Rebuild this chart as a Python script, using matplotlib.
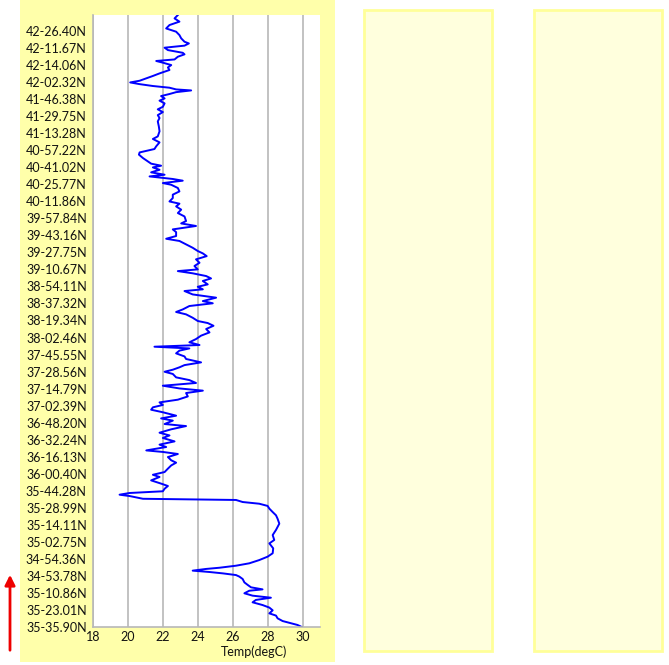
import matplotlib
matplotlib.use("Agg")
import matplotlib.pyplot as plt
from matplotlib.patches import Rectangle, FancyArrowPatch

plt.rcParams['font.family'] = ['Lato', 'DejaVu Sans']

# latitude labels along the track (bottom = start)
lat_labels = ['35-35.90N', '35-23.01N', '35-10.86N', '34-53.78N', '34-54.36N',
              '35-02.75N', '35-14.11N', '35-28.99N', '35-44.28N', '36-00.40N',
              '36-16.13N', '36-32.24N', '36-48.20N', '37-02.39N', '37-14.79N',
              '37-28.56N', '37-45.55N', '38-02.46N', '38-19.34N', '38-37.32N',
              '38-54.11N', '39-10.67N', '39-27.75N', '39-43.16N', '39-57.84N',
              '40-11.86N', '40-25.77N', '40-41.02N', '40-57.22N', '41-13.28N',
              '41-29.75N', '41-46.38N', '42-02.32N', '42-14.06N', '42-11.67N',
              '42-26.40N']

# position along the track (label units) and sea temperature
track_pos = [35.94, 35.74, 35.55, 35.35, 35.15, 34.96, 34.76, 34.57, 34.37, 34.27,
             34.14, 34.02, 33.88, 33.72, 33.63, 33.49, 33.33, 33.24, 33.14, 33.00,
             32.86, 32.71, 32.51, 32.36, 32.22, 32.08, 31.98, 31.88, 31.77, 31.67,
             31.57, 31.51, 31.41, 31.30, 31.18, 31.04, 30.91, 30.75, 30.55, 30.40,
             30.24, 30.06,
             29.89, 29.69, 29.40, 29.11, 28.81, 28.66, 28.46, 28.23, 28.07, 27.87,
             27.74, 27.54, 27.34, 27.21, 27.09, 26.99, 26.85, 26.70, 26.56, 26.46,
             26.31, 26.21, 26.07, 25.97, 25.78, 25.58, 25.39, 25.19, 24.99, 24.86,
             24.70, 24.51, 24.31, 24.11,
             23.84, 23.70, 23.55, 23.35, 23.19, 22.96, 22.80, 22.67, 22.47, 22.27,
             22.08, 21.94, 21.78, 21.59, 21.39, 21.20, 21.00, 20.90, 20.77, 20.61,
             20.47, 20.32, 20.12, 19.98, 19.83, 19.73, 19.53, 19.34, 19.14, 19.01,
             18.85, 18.65, 18.50, 18.36, 18.16, 17.97,
             17.85, 17.69, 17.50, 17.30, 17.11, 16.91, 16.72, 16.56, 16.46, 16.36,
             16.23, 16.07, 15.89, 15.74, 15.54, 15.38, 15.25, 15.11, 14.99, 14.86,
             14.66, 14.50, 14.33, 14.17, 14.01, 13.88, 13.74, 13.54, 13.35, 13.19,
             13.04, 12.90, 12.76, 12.61, 12.41, 12.25, 12.12, 11.92,
             11.80, 11.61, 11.41, 11.25, 11.10, 10.90, 10.71, 10.57, 10.37, 10.28,
             10.16, 9.98, 9.79, 9.65, 9.49, 9.30, 9.10, 8.94, 8.81, 8.61,
             8.42, 8.28, 8.12, 7.97, 7.87, 7.77, 7.69, 7.57, 7.53, 7.46,
             7.34, 7.24, 7.11, 6.95, 6.75, 6.56, 6.36, 6.07,
             5.70, 5.40, 5.11, 4.91, 4.62, 4.33, 4.13, 3.93, 3.74, 3.60,
             3.48, 3.41, 3.31, 3.23, 3.15, 3.05, 2.96, 2.82, 2.62, 2.47,
             2.33, 2.21, 2.13, 1.98, 1.84, 1.72, 1.59, 1.45, 1.29, 1.14,
             0.98, 0.80, 0.67, 0.51, 0.35, 0.22, 0.12, 0.00]
temp_c = [22.86, 22.67, 22.95, 22.38, 22.19, 22.76, 22.95, 23.05, 23.24, 23.49,
          23.24, 22.10, 22.29, 23.14, 23.24, 22.86, 22.67, 21.62, 22.00, 22.48,
          22.29, 22.38, 21.81, 21.43, 21.05, 20.67, 20.13, 20.67, 21.43, 22.38,
          22.76, 23.62, 22.76, 22.38, 21.90, 22.10, 21.81, 22.10, 22.00, 21.71,
          22.00, 21.71,
          21.81, 21.71, 21.77, 21.81, 21.71, 21.43, 21.81, 21.62, 21.52, 20.67,
          20.63, 20.86, 21.14, 21.33, 21.90, 21.43, 21.81, 21.33, 22.10, 21.24,
          22.57, 23.14, 22.00, 22.48, 22.86, 22.95, 22.57, 22.57, 22.38, 22.95,
          22.76, 23.05, 22.86, 23.24,
          23.33, 23.05, 23.90, 22.57, 22.76, 22.76, 22.19, 22.95, 23.33, 23.71,
          24.00, 24.29, 24.51, 23.90, 24.10, 23.81, 24.00, 22.86, 23.71, 24.48,
          24.76, 24.29, 24.57, 24.00, 24.29, 23.24, 23.71, 25.05, 24.29, 24.86,
          23.52, 23.14, 22.76, 23.33, 23.71, 24.00,
          24.57, 24.90, 24.48, 24.67, 24.19, 23.90, 23.52, 24.10, 21.52, 23.52,
          22.95, 22.76, 23.24, 23.33, 24.19, 23.24, 22.95, 22.57, 22.10, 22.57,
          22.76, 23.52, 23.90, 22.00, 22.95, 24.29, 23.33, 23.43, 22.86, 21.81,
          22.00, 21.43, 21.33, 22.00, 22.76, 21.90, 22.57, 22.10,
          23.33, 22.48, 21.81, 22.38, 22.00, 22.67, 21.81, 22.19, 21.05, 22.00,
          22.86, 22.29, 22.48, 22.76, 22.48, 22.29, 22.10, 21.43, 21.81, 21.33,
          21.90, 22.29, 22.10, 22.00, 20.10, 19.52, 20.10, 20.67, 20.86, 26.19,
          26.57, 27.52, 28.00, 28.10, 28.29, 28.48, 28.57, 28.67,
          28.48, 28.29, 28.38, 28.10, 28.32, 28.29, 28.00, 27.52, 26.95, 26.19,
          25.24, 24.48, 23.71, 24.67, 25.43, 26.19, 26.38, 26.57, 26.67, 26.86,
          27.05, 27.71, 26.95, 26.67, 27.14, 28.19, 27.33, 27.14, 27.71, 28.10,
          28.29, 28.10, 28.48, 28.57, 28.86, 29.33, 29.71, 29.96]

temp_ticks = [18, 20, 22, 24, 26, 28, 30]

W, H = 669, 665
fig = plt.figure(figsize=(W / 100, H / 100), dpi=100)

# yellow panel behind the profile, plus the two empty panels
fig.patches.append(Rectangle((20 / W, 3 / H), 315 / W, 662 / H, transform=fig.transFigure,
                             facecolor='#FFFFAA', edgecolor='none', zorder=-5))
for x0 in (364, 534):
    fig.patches.append(Rectangle((x0 / W, (H - 651) / H), 128 / W, 641 / H,
                                 transform=fig.transFigure, facecolor='#FFFFDD',
                                 edgecolor='#FFFF99', linewidth=2, zorder=-5))

ax = fig.add_axes([93 / W, (H - 627) / H, 227 / W, 612 / H])
ax.set_zorder(2)
ax.set_facecolor('white')
ax.plot(temp_c, track_pos, color='#0000FF', linewidth=1.4)

ax.set_xlim(18, 31)
ax.set_ylim(0, 35.94)
ax.set_xticks(temp_ticks)
ax.set_yticks(range(len(lat_labels)))
ax.set_yticklabels(lat_labels)
ax.tick_params(axis='both', length=0, labelsize=9, colors='#111111')
ax.tick_params(axis='y', pad=4.5)
ax.tick_params(axis='x', pad=3)
ax.grid(axis='x', color='#B8B8B8', linewidth=1.2)
ax.set_axisbelow(True)
for s in ('top', 'right'):
    ax.spines[s].set_visible(False)
for s in ('left', 'bottom'):
    ax.spines[s].set_color('#B8B8B8')
    ax.spines[s].set_linewidth(1.2)

ax.set_xlabel('Temp(degC)', fontsize=9, color='#111111')
ax.xaxis.set_label_coords((254 - 93) / 227, -18 / 612)

# direction-of-travel arrow
fig.patches.append(FancyArrowPatch(
    (10 / W, (H - 653) / H), (10 / W, (H - 572) / H), transform=fig.transFigure,
    arrowstyle='-|>,head_length=6,head_width=3', color='#EE0000', linewidth=2,
    zorder=3))

fig.savefig('out.png', dpi=100)
